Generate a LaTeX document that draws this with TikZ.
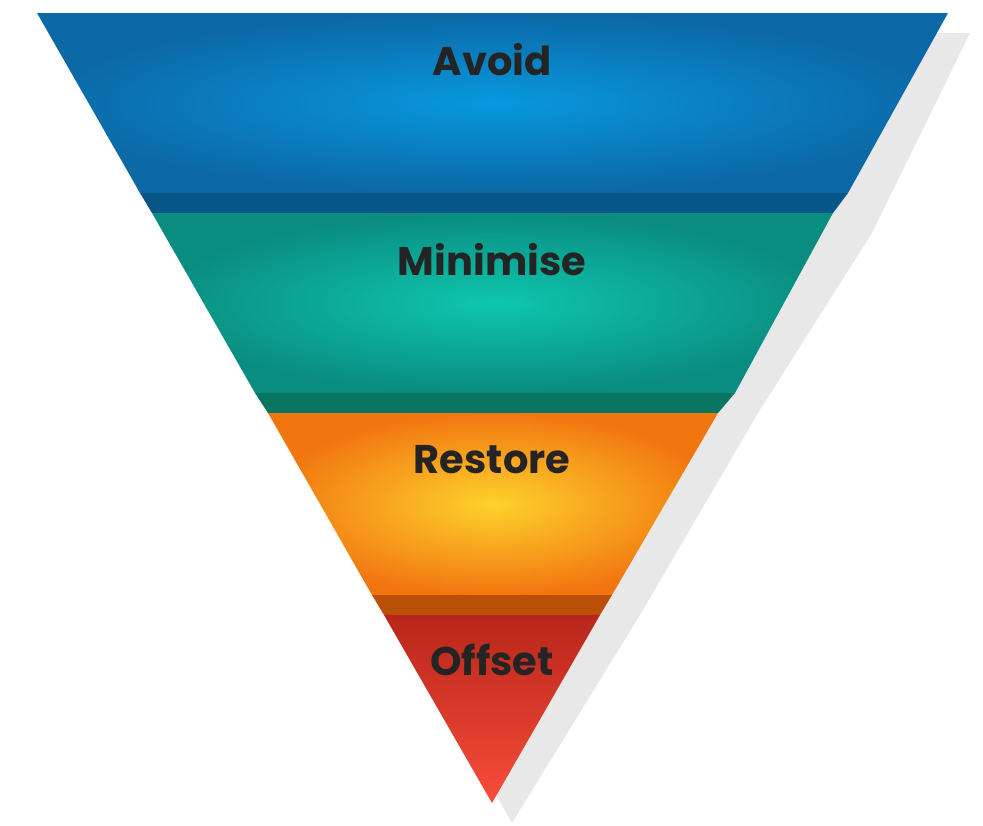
\documentclass[tikz,border=0pt]{standalone}
\usepackage{fontspec}
\setmainfont{Poppins}
\usetikzlibrary{positioning}
\definecolor{avoidout}{RGB}{12,104,166}
\definecolor{avoidin}{RGB}{8,152,222}
\definecolor{avoidlip}{RGB}{6,86,136}
\definecolor{minout}{RGB}{10,140,128}
\definecolor{minin}{RGB}{14,198,174}
\definecolor{minlip}{RGB}{8,118,96}
\definecolor{restout}{RGB}{242,118,16}
\definecolor{restin}{RGB}{253,210,44}
\definecolor{restlip}{RGB}{186,80,8}
\definecolor{offtop}{RGB}{184,38,26}
\definecolor{offbot}{RGB}{248,76,58}
\definecolor{shadowgrey}{RGB}{232,232,232}
\definecolor{labeltext}{RGB}{36,36,36}

\begin{document}
\begin{tikzpicture}[
    x=1pt, y=-1pt,
    label/.style={font=\fontsize{40}{44}\selectfont\bfseries, text=labeltext, anchor=center},
    lip/.style={draw=none}
]
\useasboundingbox (0,0) rectangle (983,825);

% Shadow
\fill[shadowgrey] (62,33) -- (970,33) -- (872,233) -- (758,413) -- (640,615) -- (512,823) -- cycle;

% Avoid
\shade[inner color=avoidin, outer color=avoidout] (37,13) -- (948,13) -- (848,193) -- (140,193) -- cycle;
\fill[lip, avoidlip] (140,193) -- (848,193) -- (833,213) -- (152,213) -- cycle;
% Minimise
\shade[inner color=minin, outer color=minout] (152,213) -- (833,213) -- (735,393) -- (255,393) -- cycle;
\fill[lip, minlip] (255,393) -- (735,393) -- (718,413) -- (268,413) -- cycle;
% Restore
\shade[inner color=restin, outer color=restout] (268,413) -- (718,413) -- (612,595) -- (372,595) -- cycle;
\fill[lip, restlip] (372,595) -- (612,595) -- (600,615) -- (384,615) -- cycle;
% Offset
\shade[top color=offtop, bottom color=offbot] (384,615) -- (600,615) -- (492,803) -- cycle;

% Labels
\node[label] (avoid) at (492,60) {Avoid};
\node[label] (minimise) at (492,260) {Minimise};
\node[label] (restore) at (492,460) {Restore};
\node[label] (offset) at (492,660) {Offset};

\end{tikzpicture}
\end{document}
